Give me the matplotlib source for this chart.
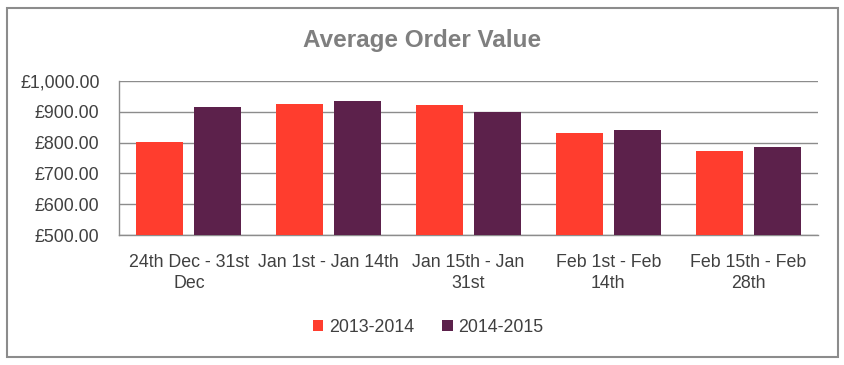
import numpy as np
import matplotlib.pyplot as plt
from matplotlib.patches import Rectangle

# datos
categorias = ['24th Dec - 31st\nDec', 'Jan 1st - Jan 14th', 'Jan 15th - Jan\n31st',
              'Feb 1st - Feb\n14th', 'Feb 15th - Feb\n28th']
serie_2013 = [803, 926, 923, 832, 774]
serie_2014 = [917, 936, 900, 842, 786]
nombres = ['2013-2014', '2014-2015']
y_ticks = [500, 600, 700, 800, 900, 1000]

rojo = '#FF3D2E'
morado = '#5C214B'
texto = '#404040'

plt.rcParams['font.family'] = ['Liberation Sans', 'DejaVu Sans']

fig = plt.figure(figsize=(8.45, 3.65), dpi=100)
# marco gris exterior
fig.patches.append(Rectangle((7 / 845, 8 / 365), 831 / 845, 349 / 365, transform=fig.transFigure,
                             fill=False, edgecolor='#8C8C8C', linewidth=1.5))

ax = fig.add_axes([119 / 845, 1 - 235 / 365, 699 / 845, 154 / 365])
x = np.arange(len(categorias))
w = 0.336
ax.bar(x - 0.207, serie_2013, w, color=rojo, label=nombres[0], zorder=3)
ax.bar(x + 0.207, serie_2014, w, color=morado, label=nombres[1], zorder=3)

ax.set_xlim(-0.5, len(categorias) - 0.5)
ax.set_ylim(500, 1000)
ax.set_yticks(y_ticks)
ax.set_yticklabels(['£{:,.2f}'.format(v) for v in y_ticks], fontsize=12.8, color=texto)
ax.set_xticks(x)
ax.set_xticklabels(categorias, fontsize=12.8, color=texto, linespacing=1.3)
ax.tick_params(axis='both', length=0)
ax.tick_params(axis='y', pad=14)
ax.tick_params(axis='x', pad=14)
ax.grid(axis='y', color='#8C8C8C', linewidth=1, zorder=0)
for s in ['top', 'right']:
    ax.spines[s].set_visible(False)
for s in ['left', 'bottom']:
    ax.spines[s].set_color('#8C8C8C')
    ax.spines[s].set_linewidth(1)

fig.text(422 / 845, 1 - 41 / 365, 'Average Order Value', ha='center', va='center',
         fontsize=17.5, fontweight='bold', color='#7F7F7F')

fig.legend(loc='center', bbox_to_anchor=(428 / 845, 1 - 327 / 365), ncol=2, frameon=False,
           fontsize=12.8, handlelength=0.6, handleheight=0.6, handletextpad=0.3,
           columnspacing=1.6, labelcolor=texto)

plt.savefig('out.png', dpi=100)
